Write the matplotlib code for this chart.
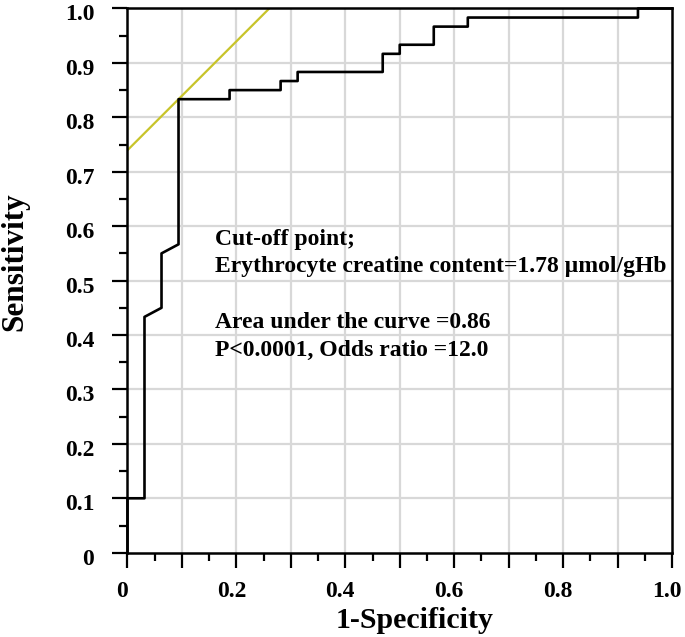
import matplotlib
matplotlib.use("Agg")
import matplotlib.pyplot as plt
from matplotlib.ticker import MultipleLocator, FixedLocator
from matplotlib.transforms import ScaledTranslation
import numpy as np

# ROC curve (1-specificity, sensitivity); 32 negatives, 60 positives
fpr = [0, 0, 1/32, 1/32, 2/32, 2/32, 3/32, 3/32, 6/32, 6/32, 9/32, 9/32,
       10/32, 10/32, 15/32, 15/32, 16/32, 16/32, 18/32, 18/32, 20/32, 20/32,
       30/32, 30/32, 1.0]
tpr = [0, 6/60, 6/60, 26/60, 27/60, 33/60, 34/60, 50/60, 50/60, 51/60, 51/60, 52/60,
       52/60, 53/60, 53/60, 55/60, 55/60, 56/60, 56/60, 58/60, 58/60, 59/60,
       59/60, 1.0, 1.0]

cutoff_fpr = 3/32
cutoff_tpr = 50/60
tangent_x = [0.0, 0.2604]

ytick_labels = ["0", "0.1", "0.2", "0.3", "0.4", "0.5", "0.6", "0.7", "0.8", "0.9", "1.0"]
xticks = [0, 0.2, 0.4, 0.6, 0.8, 1.0]
xtick_labels = ["0", "0.2", "0.4", "0.6", "0.8", "1.0"]

annot_lines = ["Cut-off point;",
               "Erythrocyte creatine content=1.78 \u00b5mol/gHb",
               "Area under the curve =0.86",
               "P<0.0001, Odds ratio =12.0"]

serif = ["Liberation Serif", "DejaVu Serif"]
plt.rcParams['font.family'] = serif

fig = plt.figure(figsize=(6.85, 6.37), dpi=100)
ax = fig.add_axes([0.1861, 0.1323, 0.7949, 0.8544])

ax.set_xlim(0, 1)
ax.set_ylim(0, 1)

# grid
for g in np.arange(1, 10) / 10:
    ax.axvline(g, color="#d8d8d8", lw=1.6, zorder=0)
    ax.axhline(g, color="#d8d8d8", lw=1.6, zorder=0)

# tangent (Youden) line
intercept = cutoff_tpr - cutoff_fpr
tx = np.array(tangent_x)
ax.plot(tx, tx + intercept, color="#c8c42a", lw=1.6, zorder=2, solid_capstyle="butt")

ax.plot(fpr, tpr, color="black", lw=1.9, zorder=3, clip_on=False)

ax.xaxis.set_major_locator(FixedLocator(np.arange(0, 11) / 10))
ax.xaxis.set_minor_locator(MultipleLocator(0.05))
ax.yaxis.set_major_locator(FixedLocator(np.arange(0, 11) / 10))
ax.yaxis.set_minor_locator(MultipleLocator(0.05))

xlabels = []
for v in np.arange(0, 11) / 10:
    lab = ""
    for t, l in zip(xticks, xtick_labels):
        if abs(t - v) < 1e-9:
            lab = l
    xlabels.append(lab)
ax.set_xticklabels(xlabels)
ax.set_yticklabels(ytick_labels)

ax.tick_params(which="major", direction="out", length=11, width=1.6,
               labelsize=17)
ax.tick_params(which="minor", direction="out", length=6, width=1.6)
ax.tick_params(axis="x", which="major", pad=9)
ax.tick_params(axis="y", which="major", pad=13)

dx = ScaledTranslation(-5 / 100, 0, fig.dpi_scale_trans)
dy = ScaledTranslation(0, -4 / 100, fig.dpi_scale_trans)
for lab in ax.get_xticklabels():
    lab.set_fontweight("bold")
    lab.set_transform(lab.get_transform() + dx)
for lab in ax.get_yticklabels():
    lab.set_fontweight("bold")
    lab.set_transform(lab.get_transform() + dy)

for s in ax.spines.values():
    s.set_linewidth(1.8)
    s.set_color("black")

ax.set_xlabel("1-Specificity", fontsize=21.5, fontweight="bold", va="center")
ax.set_ylabel("Sensitivity", fontsize=22.5, fontweight="bold", va="center")
ax.xaxis.set_label_coords(0.528, -0.1237)
ax.yaxis.set_label_coords(-0.2065, 0.534)

ys = [0.575, 0.525, 0.423, 0.372]
for txt, yy in zip(annot_lines, ys):
    ax.text(0.161, yy, txt, fontsize=17, fontweight="bold", va="center",
            ha="left", zorder=4)

fig.savefig("out.png", dpi=100)
